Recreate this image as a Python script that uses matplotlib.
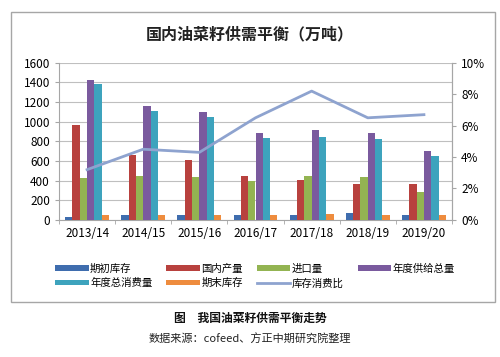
import numpy as np
import matplotlib
matplotlib.use("Agg")
import matplotlib.pyplot as plt
from matplotlib.patches import Rectangle
from matplotlib.ticker import FuncFormatter

plt.rcParams["font.family"] = ["Noto Sans CJK SC", "DejaVu Sans"]

# data (万吨)
years = ["2013/14", "2014/15", "2015/16", "2016/17", "2017/18", "2018/19", "2019/20"]
begin_stock = [27, 47, 47, 51, 54, 68, 54]
production = [966, 664, 613, 447, 407, 366, 363]
imports = [430, 447, 440, 397, 447, 441, 288]
total_supply = [1424, 1156, 1098, 888, 912, 881, 702]
total_consume = [1386, 1108, 1051, 834, 841, 820, 654]
end_stock = [51, 51, 51, 54, 64, 54, 47]
stock_ratio = [3.2, 4.5, 4.3, 6.5, 8.2, 6.5, 6.7]  # %

names = ["期初库存", "国内产量", "进口量", "年度供给总量", "年度总消费量", "期末库存"]
colors = ["#3F6DAE", "#B8413E", "#93B452", "#7A5A9E", "#3DA3BD", "#EE8C3E"]
LINE_C = "#8EA3CF"
GRID_C = "#BFBFBF"

fig = plt.figure(figsize=(5.0, 3.57), dpi=100)
# chart frame
fig.patches.append(Rectangle((0.022, 0.154), 0.968, 0.812, transform=fig.transFigure,
                             fill=False, edgecolor="#A6A6A6", linewidth=1.0))
fig.text(0.5, 0.905, "国内油菜籽供需平衡（万吨）", ha="center", va="center",
         fontsize=11.5, fontweight="bold", color="#222")

ax = fig.add_axes([0.118, 0.384, 0.786, 0.44])
x = np.arange(len(years))
w = 0.13
series = [begin_stock, production, imports, total_supply, total_consume, end_stock]
handles = []
for i, (vals, c, n) in enumerate(zip(series, colors, names)):
    b = ax.bar(x + (i - 2.5) * w, vals, w, color=c, label=n, zorder=3)
    handles.append(b)

ax.set_xlim(-0.5, len(years) - 0.5)
ax.set_ylim(0, 1600)
ax.set_yticks(range(0, 1601, 200))
ax.set_xticks(x)
ax.set_xticklabels(years, fontsize=8.5)
ax.set_xticks(np.arange(-0.5, len(years)), minor=True)
ax.tick_params(axis="x", which="major", length=0, pad=5)
ax.tick_params(axis="x", which="minor", length=3, color="#A6A6A6")
ax.tick_params(axis="y", labelsize=8.5, length=3, color="#A6A6A6")
ax.grid(axis="y", color=GRID_C, linewidth=0.8, zorder=0)
ax.spines["top"].set_visible(False)
for s in ["left", "right", "bottom"]:
    ax.spines[s].set_color("#A6A6A6")

ax2 = ax.twinx()
ln, = ax2.plot(x, stock_ratio, color=LINE_C, linewidth=2, label="库存消费比", zorder=4)
ax2.set_ylim(0, 10)
ax2.set_yticks(range(0, 11, 2))
ax2.yaxis.set_major_formatter(FuncFormatter(lambda v, p: f"{v:.0f}%"))
ax2.tick_params(axis="y", labelsize=8.5, length=3, color="#A6A6A6")
for s in ["top", "left", "bottom"]:
    ax2.spines[s].set_visible(False)
ax2.spines["right"].set_color("#A6A6A6")

# legend filled column by column -> reorder so rows read like the original
h = handles + [ln]
lab = names + ["库存消费比"]
order = [0, 4, 1, 5, 2, 6, 3]
fig.legend([h[i] for i in order], [lab[i] for i in order], loc="center left", ncol=4,
           bbox_to_anchor=(0.1, 0.227, 0.82, 0.0), mode="expand", frameon=False,
           fontsize=7.5, handlelength=3.2, handleheight=0.45, labelspacing=0.45,
           handletextpad=0.15, borderpad=0.0)

fig.text(0.5, 0.108, "图　我国油菜籽供需平衡走势", ha="center", va="center",
         fontsize=8.5, fontweight="bold", color="#111")
fig.text(0.5, 0.05, "数据来源：cofeed、方正中期研究院整理", ha="center", va="center",
         fontsize=8, color="#222")

fig.savefig("out.png", dpi=100)
